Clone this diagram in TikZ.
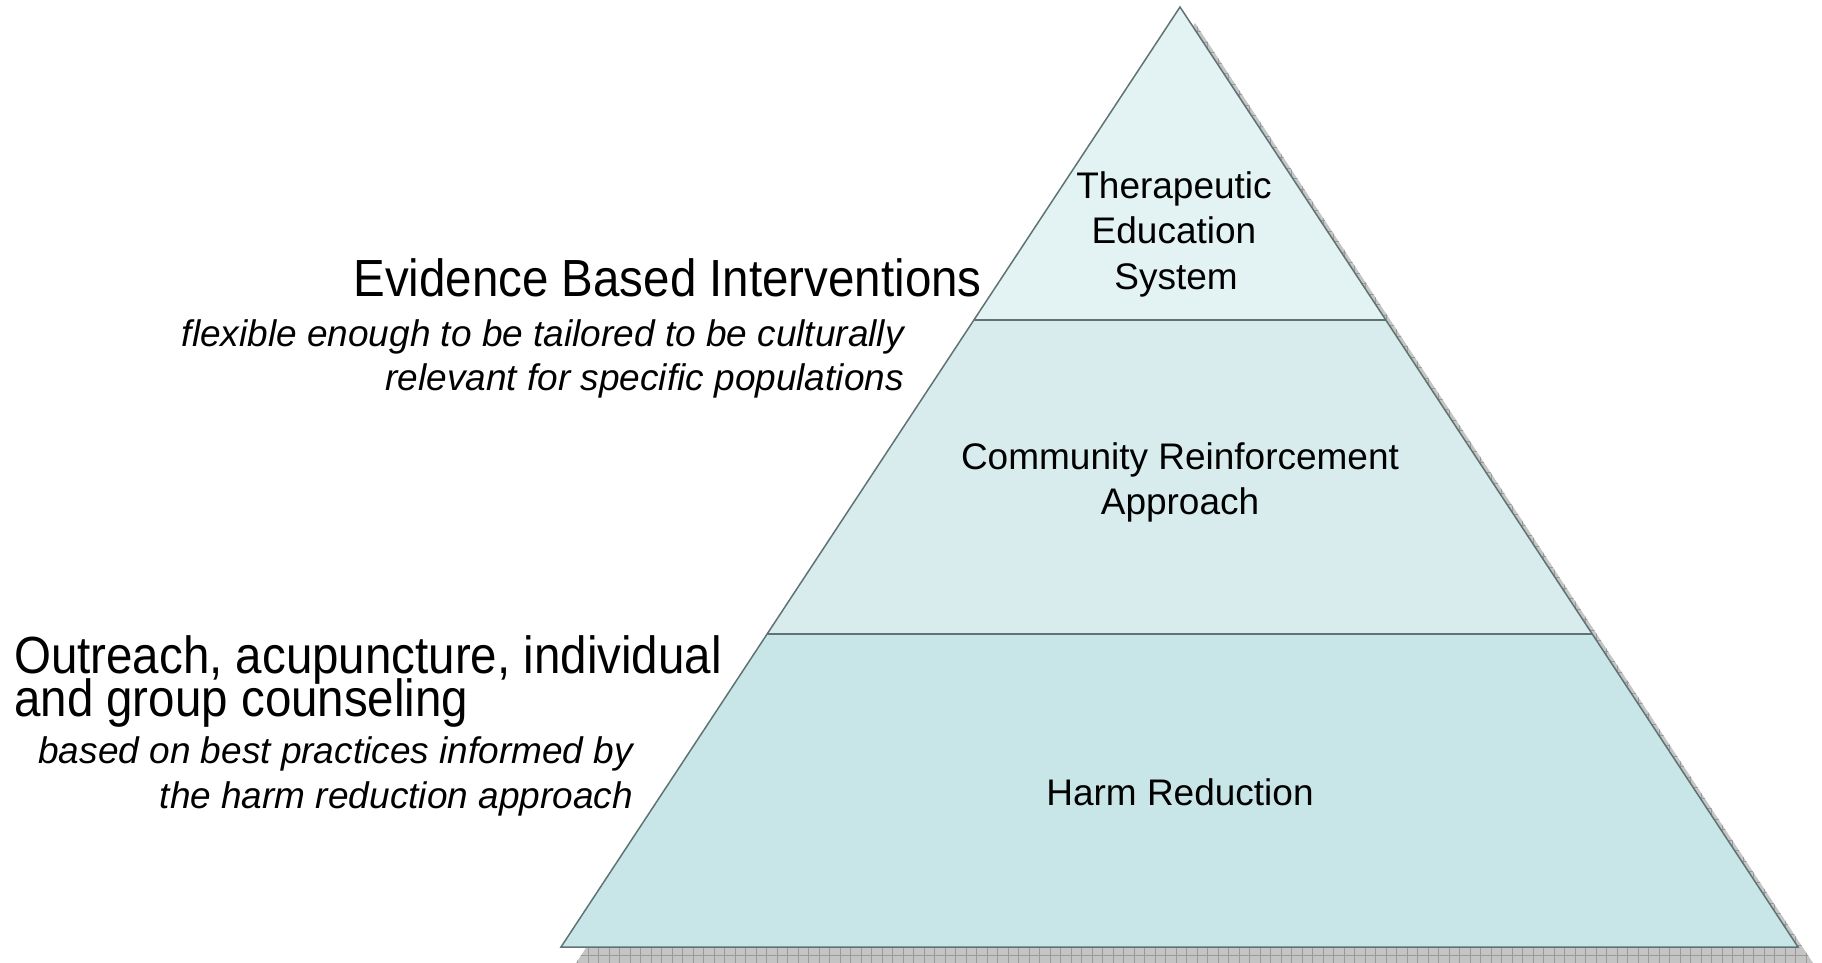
\documentclass[tikz,border=0pt]{standalone}
\usepackage{fontspec}
\setmainfont{Liberation Sans}
\usetikzlibrary{calc}
\definecolor{tiertop}{HTML}{E3F3F3}
\definecolor{tiermid}{HTML}{D8ECEE}
\definecolor{tierbot}{HTML}{C8E6E8}
\definecolor{edgecol}{HTML}{5F7373}
\definecolor{shadowfill}{HTML}{C4C4C4}
\definecolor{shadowgrid}{HTML}{999999}
\newcommand{\tall}[1]{\scalebox{1}[1.1]{#1}}
\tikzset{
  big/.style={font=\fontsize{47.5}{50}\selectfont, inner sep=0pt},
  small/.style={font=\fontsize{37}{40}\selectfont\itshape, inner sep=0pt},
  tierlabel/.style={font=\fontsize{37}{40}\selectfont, inner sep=0pt, anchor=base},
  outline/.style={draw=edgecol, line width=1.5pt, line join=miter},
}
\begin{document}
\begin{tikzpicture}[x=1pt,y=-1pt]
\useasboundingbox (0,0) rectangle (1822,963);
% key points
\coordinate (A) at (1180,7);
\coordinate (L) at (561,947);
\coordinate (R) at (1798,947);
\coordinate (SA) at (1195,23);
\coordinate (SL) at (576,963);
\coordinate (SR) at (1813,963);
\coordinate (L1) at ($(A)!0.3330!(L)$);
\coordinate (R1) at ($(A)!0.3330!(R)$);
\coordinate (L2) at ($(A)!0.6670!(L)$);
\coordinate (R2) at ($(A)!0.6670!(R)$);
% shadow
\fill[shadowfill] (SA) -- (SR) -- (SL) -- cycle;
\begin{scope}
\clip (SA) -- (SR) -- (SL) -- cycle;
\draw[shadowgrid, line width=0.8pt, step=10.5pt] (560,0) grid (1822,963);
\end{scope}
% tiers
\fill[tiertop] (A) -- (R1) -- (L1) -- cycle;
\fill[tiermid] (L1) -- (R1) -- (R2) -- (L2) -- cycle;
\fill[tierbot] (L2) -- (R2) -- (R) -- (L) -- cycle;
\draw[outline] (A) -- (R) -- (L) -- cycle;
\draw[outline] (L1) -- (R1);
\draw[outline] (L2) -- (R2);
% tier labels
\node[tierlabel] (t1) at (1174,198) {Therapeutic};
\node[tierlabel] (t2) at (1174,243) {Education};
\node[tierlabel] (t3) at (1176,289) {System};
\node[tierlabel] (m1) at (1180,469) {Community Reinforcement};
\node[tierlabel] (m2) at (1180,514) {Approach};
\node[tierlabel] (b1) at (1180,805) {Harm Reduction};
% left annotations
\node[big, anchor=base east] (e1) at (982,296) {\tall{Evidence Based Interventions}};
\node[small, anchor=base east] (e2) at (904,346) {flexible enough to be tailored to be culturally};
\node[small, anchor=base east] (e3) at (904,390) {relevant for specific populations};
\node[big, anchor=base west] (o1) at (14,673) {\tall{Outreach, acupuncture, individual}};
\node[big, anchor=base west] (o2) at (14,716) {\tall{and group counseling}};
\node[small, anchor=base east] (o3) at (633,763) {based on best practices informed by};
\node[small, anchor=base east] (o4) at (633,808) {the harm reduction approach};
\end{tikzpicture}
\end{document}
